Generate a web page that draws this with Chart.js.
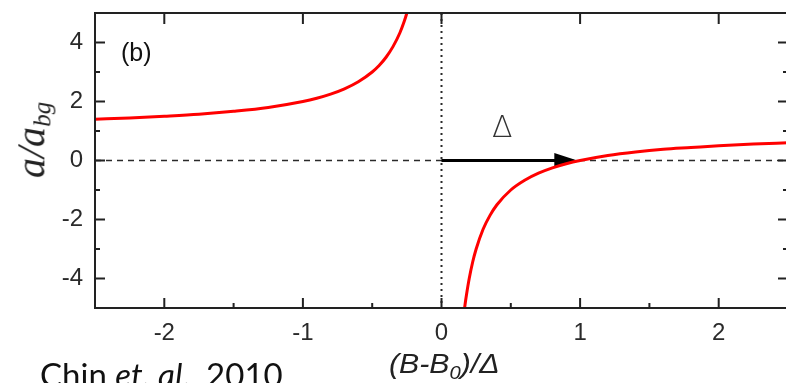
<!DOCTYPE html>
<html><head><meta charset="utf-8">
<script src="https://cdn.jsdelivr.net/npm/chart.js@4.4.0/dist/chart.umd.min.js"></script>
<style>
html,body{margin:0;padding:0;background:#fff;overflow:hidden;width:786px;height:383px;}
#wrap{position:relative;width:800px;height:383px;}
canvas{position:absolute;left:0;top:0;}
.lbl{position:absolute;white-space:nowrap;color:#222;line-height:1;}
#ytitle{left:33px;top:140px;transform:translate(-50%,-50%) rotate(-90deg);font-family:'Liberation Serif',serif;font-style:italic;font-size:40px;}
#ytitle sub{font-size:25px;vertical-align:-0.25em;}
#xtitle{left:389px;top:351px;transform:scaleX(1.12);transform-origin:0 0;font-family:'Liberation Sans',sans-serif;font-style:italic;font-size:27px;}
#xtitle sub{font-size:18px;vertical-align:-0.35em;}
#cite{left:40px;top:358px;font-family:Lato,sans-serif;font-size:33px;color:#111;}
#panel{left:121px;top:40px;font-family:'Liberation Sans',sans-serif;font-size:25px;color:#111;}
#delta{left:492px;top:112px;font-family:'DejaVu Sans',sans-serif;font-weight:200;font-size:30px;color:#333;}
</style></head><body>
<div id="wrap"><canvas id="c" width="800" height="383"></canvas>
<div class="lbl" id="ytitle">a/a<sub>bg</sub></div>
<div class="lbl" id="xtitle">(B-B<sub>0</sub>)/Δ</div>
<div class="lbl" id="cite">Chin <i>et. al</i>., 2010</div>
<div class="lbl" id="panel">(b)</div>
<div class="lbl" id="delta">Δ</div>
</div>
<script>
// ---- data ----
const leftX  = [-2.5,-2.25,-2,-1.75,-1.5,-1.25,-1,-0.9,-0.8,-0.7,-0.6,-0.5,-0.45,-0.4,-0.35,-0.3,-0.27,-0.25,-0.23];
const leftY  = [1.40,1.44,1.50,1.57,1.67,1.80,2.00,2.11,2.25,2.43,2.67,3.00,3.22,3.50,3.86,4.33,4.70,5.00,5.35];
const rightX = [0.16,0.17,0.18,0.2,0.225,0.25,0.3,0.35,0.4,0.5,0.6,0.7,0.8,0.9,1.0,1.2,1.4,1.6,1.8,2.0,2.25,2.5];
const rightY = [-5.25,-4.88,-4.56,-4.0,-3.44,-3.0,-2.33,-1.86,-1.5,-1.0,-0.67,-0.43,-0.25,-0.11,0.0,0.17,0.29,0.38,0.44,0.5,0.56,0.6];
const xMajor = [-2,-1,0,1,2];
const xMinor = [-1.5,-0.5,0.5,1.5];
const yMajor = [-4,-2,0,2,4];
const yMinor = [-3,-1,1,3];
const xRange = [-2.5,2.5];
const yRange = [-5,5];
const arrowFrom = [0,0];
const arrowTo = [0.98,0];

const toPts = (xs,ys)=>xs.map((v,i)=>({x:v,y:ys[i]}));

const frame = {
  id:'frame',
  beforeDatasetsDraw(chart){
    const {ctx, chartArea:a, scales:{x,y}} = chart;
    ctx.save();
    const y0 = y.getPixelForValue(0), x0 = x.getPixelForValue(0);
    ctx.strokeStyle='#2a2a2a';
    ctx.lineWidth=1.7; ctx.setLineDash([6,5]);
    ctx.beginPath(); ctx.moveTo(a.left,y0); ctx.lineTo(a.right,y0); ctx.stroke();
    ctx.setLineDash([2,4]); ctx.lineWidth=2;
    ctx.beginPath(); ctx.moveTo(x0,a.top); ctx.lineTo(x0,a.bottom); ctx.stroke();
    ctx.setLineDash([]);
    const ax1=x.getPixelForValue(arrowFrom[0]), ay1=y.getPixelForValue(arrowFrom[1]);
    const ax2=x.getPixelForValue(arrowTo[0]), ay2=y.getPixelForValue(arrowTo[1]);
    ctx.strokeStyle='#000'; ctx.fillStyle='#000'; ctx.lineWidth=3;
    ctx.beginPath(); ctx.moveTo(ax1,ay1); ctx.lineTo(ax2-18,ay2); ctx.stroke();
    ctx.beginPath(); ctx.moveTo(ax2,ay2); ctx.lineTo(ax2-23,ay2-7.5); ctx.lineTo(ax2-23,ay2+7.5); ctx.closePath(); ctx.fill();
    ctx.restore();
  },
  afterDatasetsDraw(chart){
    const {ctx, chartArea:a, scales:{x,y}} = chart;
    ctx.save();
    ctx.strokeStyle='#222'; ctx.lineWidth=2;
    ctx.strokeRect(a.left,a.top,a.right-a.left,a.bottom-a.top);
    ctx.beginPath();
    xMajor.forEach(v=>{const p=x.getPixelForValue(v);
      ctx.moveTo(p,a.bottom); ctx.lineTo(p,a.bottom-10);
      ctx.moveTo(p,a.top); ctx.lineTo(p,a.top+11);});
    xMinor.forEach(v=>{const p=x.getPixelForValue(v);
      ctx.moveTo(p,a.bottom); ctx.lineTo(p,a.bottom-5);});
    yMajor.forEach(v=>{const p=y.getPixelForValue(v);
      ctx.moveTo(a.left,p); ctx.lineTo(a.left+10,p);
      ctx.moveTo(a.right,p); ctx.lineTo(a.right-10,p);});
    yMinor.forEach(v=>{const p=y.getPixelForValue(v);
      ctx.moveTo(a.left,p); ctx.lineTo(a.left+5,p);
      ctx.moveTo(a.right,p); ctx.lineTo(a.right-5,p);});
    ctx.stroke();
    ctx.restore();
  }
};

Chart.defaults.font.family = "'Liberation Sans', Arial, sans-serif";
new Chart(document.getElementById('c'), {
  type:'scatter',
  data:{datasets:[
    {data:toPts(leftX,leftY), showLine:true, borderColor:'#ff0000', borderWidth:3, pointRadius:0, cubicInterpolationMode:'monotone'},
    {data:toPts(rightX,rightY), showLine:true, borderColor:'#ff0000', borderWidth:3, pointRadius:0, cubicInterpolationMode:'monotone'}
  ]},
  options:{
    responsive:false, animation:false, devicePixelRatio:1,
    layout:{padding:{left:0,top:13,right:12,bottom:0}},
    plugins:{legend:{display:false}, tooltip:{enabled:false}},
    scales:{
      x:{type:'linear', min:xRange[0], max:xRange[1],
        afterBuildTicks:s=>{s.ticks=xMajor.map(v=>({value:v}));},
        afterFit:s=>{s.height=75; s.paddingLeft=0; s.paddingRight=0;},
        grid:{display:false, drawTicks:false}, border:{display:false},
        ticks:{padding:11, color:'#2a2a2a', font:{size:24}, maxRotation:0}},
      y:{type:'linear', min:yRange[0], max:yRange[1],
        afterBuildTicks:s=>{s.ticks=yMajor.map(v=>({value:v}));},
        afterFit:s=>{s.width=95; s.paddingTop=0; s.paddingBottom=0;},
        grid:{display:false, drawTicks:false}, border:{display:false},
        ticks:{padding:12, color:'#2a2a2a', font:{size:24}}}
    }
  },
  plugins:[frame]
});
</script>
</body></html>
